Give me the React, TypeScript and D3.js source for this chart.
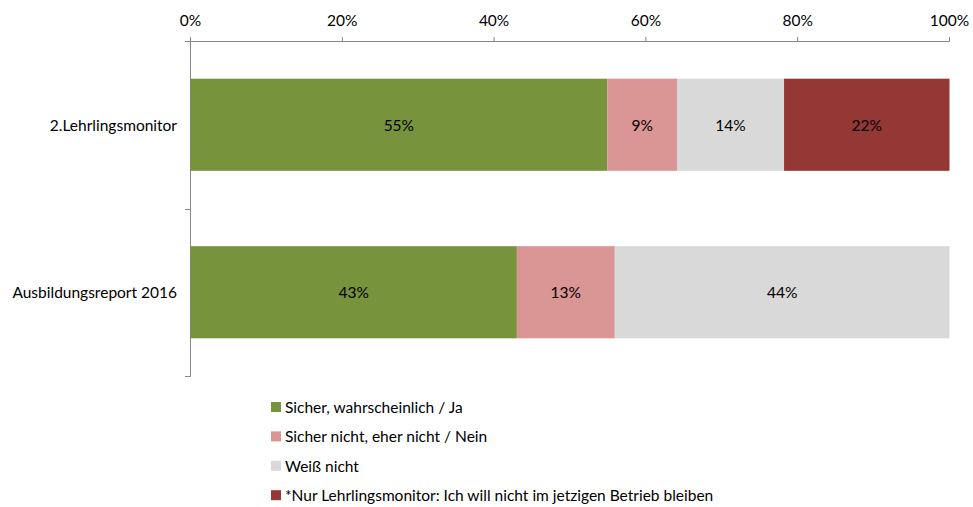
import React from "react";
import * as d3 from "d3";

const categories = ["2.Lehrlingsmonitor", "Ausbildungsreport 2016"];
const seriesNames = [
  "Sicher, wahrscheinlich / Ja",
  "Sicher nicht, eher nicht / Nein",
  "Weiß nicht",
  "*Nur Lehrlingsmonitor: Ich will nicht im jetzigen Betrieb bleiben",
];
const seriesColors = ["#77933C", "#D99694", "#D9D9D9", "#953735"];
const jaValues = [54.9, 43.0];
const neinValues = [9.2, 12.9];
const weissValues = [14.1, 44.1];
const nurValues = [21.8, 0];
const labelValues = [
  [55, 9, 14, 22],
  [43, 13, 44, null],
];
const xTicks = [0, 20, 40, 60, 80, 100];

const W = 973;
const H = 507;
const FONT = "Lato, 'Open Sans', sans-serif";
const FS = 15.5;

export default function App() {
  const x = d3.scaleLinear().domain([0, 100]).range([190.5, 949.5]);
  const y = d3.scaleBand().domain(categories).range([41, 376]).paddingInner(0.45).paddingOuter(0.225);
  const series = [jaValues, neinValues, weissValues, nurValues];
  const rows = categories.map((c, ci) => {
    let acc = 0;
    return series.map((s, si) => {
      const x0 = acc;
      acc += s[ci];
      return { c, si, x0, x1: acc, v: s[ci], label: labelValues[ci][si] };
    });
  });
  const bounds = [41, 208.5, 376];
  return (
    <svg width={W} height={H} style={{ position: "absolute", left: 0, top: 0, fontFamily: FONT }}>
      <rect width={W} height={H} fill="#fff" />
      {/* top axis */}
      <line x1={186} x2={x(100)} y1={41.5} y2={41.5} stroke="#868686" strokeWidth={1} />
      {xTicks.map((t) => (
        <g key={t}>
          <line x1={x(t)} x2={x(t)} y1={37} y2={41.5} stroke="#868686" />
          <text x={x(t)} y={20} textAnchor="middle" dominantBaseline="central" fontSize={FS} fill="#000">
            {t}%
          </text>
        </g>
      ))}
      {/* left axis */}
      <line x1={190.5} x2={190.5} y1={41} y2={376.5} stroke="#868686" />
      {bounds.map((b) => (
        <line key={b} x1={185} x2={190.5} y1={Math.round(b) + 0.5} y2={Math.round(b) + 0.5} stroke="#868686" />
      ))}
      {rows.map((r) =>
        r.map((d) =>
          d.v > 0 ? (
            <g key={d.c + d.si}>
              <rect x={x(d.x0)} y={y(d.c)} width={x(d.x1) - x(d.x0)} height={y.bandwidth()} fill={seriesColors[d.si]} />
              {d.label != null && (
                <text
                  x={(x(d.x0) + x(d.x1)) / 2}
                  y={y(d.c)! + y.bandwidth() / 2}
                  textAnchor="middle"
                  dominantBaseline="central"
                  fontSize={FS}
                  fill="#000"
                >
                  {d.label}%
                </text>
              )}
            </g>
          ) : null
        )
      )}
      {categories.map((c) => (
        <text key={c} x={177} y={y(c)! + y.bandwidth() / 2} textAnchor="end" dominantBaseline="central" fontSize={FS} fill="#000">
          {c}
        </text>
      ))}
      {/* legend */}
      {seriesNames.map((n, i) => (
        <g key={n} transform={`translate(271, ${407 + i * 29.4})`}>
          <rect x={0} y={-5} width={10} height={10} fill={seriesColors[i]} />
          <text x={14} y={0} dominantBaseline="central" fontSize={FS} fill="#000">
            {n}
          </text>
        </g>
      ))}
    </svg>
  );
}
